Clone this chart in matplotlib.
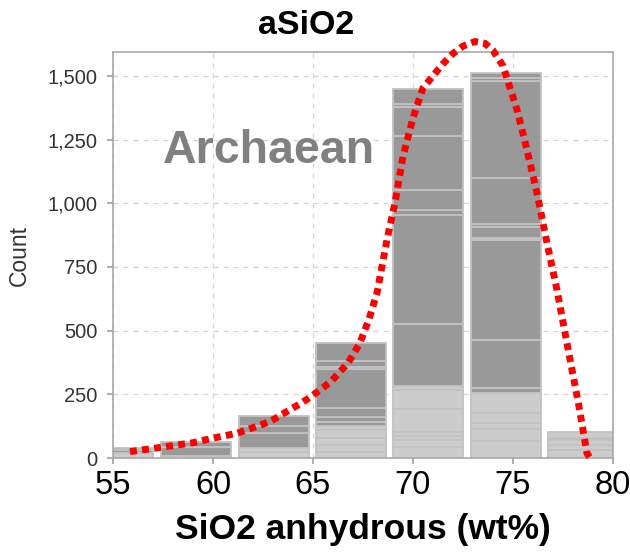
import matplotlib
matplotlib.use("Agg")
import matplotlib.pyplot as plt
from matplotlib.ticker import StrMethodFormatter

plt.rcParams["font.family"] = ["Liberation Sans", "DejaVu Sans"]

#--------data--------
bin_left = [53.5, 57.4, 61.3, 65.15, 69.0, 72.9, 76.75]
bar_width = 3.5
# cumulative tops of each stacked piece, bottom to top
seg_tops = [
  [18, 31, 40],
  [8, 44, 64],
  [25, 41, 100, 126, 166],
  [25, 51, 77, 110, 127, 143, 160, 195, 348, 356, 381, 453],
  [44, 71, 85, 103, 193, 267, 283, 526, 955, 975, 1053, 1265, 1380, 1390, 1449],
  [68, 113, 139, 178, 254, 274, 464, 854, 863, 905, 918, 1099, 1482, 1492, 1511],
  [31, 51, 72, 78, 103],
]
# L = light piece, D = dark piece
seg_shade = [
  "LDD",
  "LDD",
  "LLDDD",
  "LLLLLDDDDDDD",
  "LLLLLLLDDDDDDDD",
  "LLLLLDDDDDDDDDD",
  "LLLDL",
]
# fitted density (scaled to counts)
curve_x = [55.85, 57.5, 59.0, 60.0, 61.2, 62.85, 63.4, 64.4, 64.9, 65.9, 66.75, 67.35,
           67.8, 68.2, 68.7, 69.1, 69.5, 70.0, 70.5, 71.0, 71.5, 72.0, 72.5, 73.1,
           73.6, 74.0, 74.5, 75.2, 75.7, 76.2, 76.7, 77.2, 77.7, 78.3, 78.7, 78.85]
curve_y = [25, 43, 60, 78, 97, 143, 169, 215, 241, 300, 373, 452,
           545, 648, 857, 1002, 1184, 1335, 1453, 1500, 1548, 1588, 1617, 1635,
           1628, 1600, 1540, 1367, 1210, 1040, 844, 660, 450, 202, 18, 0]
#--------data end--------

shade_color = {"L": "#cccccc", "D": "#999999"}

fig = plt.figure(figsize=(6.3, 5.57), dpi=100)
ax = fig.add_axes([113/630, 1 - 458/557, 500/630, 406/557])

for left, tops, shades in zip(bin_left, seg_tops, seg_shade):
  bottom = 0
  for top, s in zip(tops, shades):
    ax.bar(left, top - bottom, bottom=bottom, width=bar_width, align="edge",
           color=shade_color[s], edgecolor="#c2c2c2", linewidth=1.3, zorder=2)
    bottom = top

ax.plot(curve_x, curve_y, color="red", lw=5, linestyle=(0, (1, 0.75)),
        dash_capstyle="butt", clip_on=False, zorder=4)

ax.set_xlim(55, 80)
ax.set_ylim(0, 1594)
ax.set_xticks([55, 60, 65, 70, 75, 80])
ax.set_yticks([0, 250, 500, 750, 1000, 1250, 1500])
ax.yaxis.set_major_formatter(StrMethodFormatter("{x:,.0f}"))

ax.grid(True, color="#d4d4d4", ls=(0, (4, 4)), lw=0.9, zorder=0)
ax.set_axisbelow(True)
for sp in ax.spines.values():
  sp.set_color("#a8a8a8")
  sp.set_linewidth(1.2)

ax.tick_params(axis="x", colors="#a0a0a0", labelcolor="black", labelsize=23.5,
               length=4, width=1.2, pad=5)
ax.tick_params(axis="y", colors="#a0a0a0", labelcolor="#333333", labelsize=14.5,
               length=4, width=1.2, pad=7)

ax.set_xlabel("SiO2 anhydrous (wt%)", fontsize=25.5, fontweight="bold", labelpad=8)
ax.set_ylabel("Count", fontsize=16.5, color="#333333", labelpad=12)

fig.text(306/630, 1 - 33.5/557, "aSiO2", ha="center", va="baseline",
         fontsize=24.5, fontweight="bold")
ax.text(0.1, 0.7266, "Archaean", transform=ax.transAxes, va="baseline",
        fontsize=33.5, fontweight="bold", color="#808080", zorder=5)

fig.savefig("out.png", dpi=100)
